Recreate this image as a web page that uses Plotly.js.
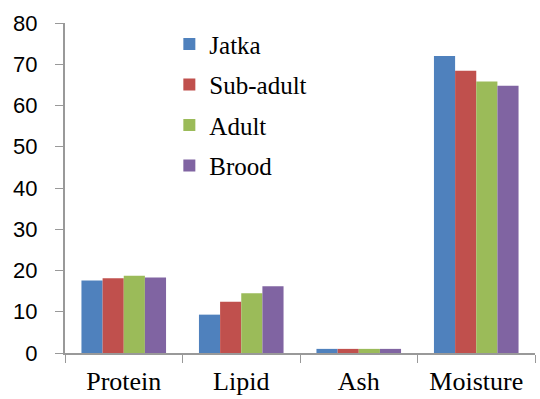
<!DOCTYPE html>
<html>
<head>
<meta charset="utf-8">
<script src="https://cdn.plot.ly/plotly-3.0.1.min.js"></script>
<style>html,body{margin:0;padding:0;background:#fff;}#chart{width:540px;height:399px;}</style>
</head>
<body>
<div id="chart"></div>
<script>
const categories = ["Protein", "Lipid", "Ash", "Moisture"];
const seriesNames = ["Jatka", "Sub-adult", "Adult", "Brood"];
const jatka = [17.6, 9.3, 1.0, 72.0];
const subAdult = [18.1, 12.4, 1.0, 68.4];
const adult = [18.7, 14.5, 1.0, 65.8];
const brood = [18.3, 16.2, 1.0, 64.8];
const colors = ["#4F81BD", "#C0504D", "#9BBB59", "#8064A2"];
const yTicks = [0, 10, 20, 30, 40, 50, 60, 70, 80];

const allSeries = [jatka, subAdult, adult, brood];
const traces = allSeries.map((vals, i) => ({
  type: "bar",
  name: seriesNames[i],
  x: categories,
  y: vals,
  legendgroup: "g" + i,
  marker: {color: colors[i], line: {width: 0}}
}));

const serif = "'Liberation Serif', 'Times New Roman', serif";
const layout = {
  width: 540, height: 399,
  margin: {l: 65, r: 5, t: 23, b: 46},
  paper_bgcolor: "#fff", plot_bgcolor: "#fff",
  font: {family: serif, size: 26, color: "#000"},
  barmode: "group",
  bargap: 0.28, bargroupgap: 0,
  showlegend: true,
  legend: {
    x: 0.222, y: 1.005, xanchor: "left", yanchor: "top",
    font: {family: serif, size: 25, color: "#000"},
    tracegroupgap: 5, bgcolor: "rgba(0,0,0,0)"
  },
  xaxis: {
    type: "category",
    range: [-0.5, 3.5],
    tickson: "boundaries",
    ticks: "outside", ticklen: 8, tickcolor: "#999",
    showline: true, linecolor: "#999", linewidth: 2,
    ticklabelstandoff: 4,
    tickfont: {family: serif, size: 26, color: "#000"},
    showgrid: false, zeroline: false
  },
  yaxis: {
    range: [0, 80],
    tickvals: yTicks,
    ticks: "outside", ticklen: 8, tickcolor: "#999",
    showline: true, linecolor: "#999", linewidth: 2,
    ticklabelstandoff: 13,
    tickfont: {family: "'Liberation Sans', Arial, sans-serif", size: 22, color: "#000"},
    showgrid: false, zeroline: false
  }
};

Plotly.newPlot("chart", traces, layout, {displayModeBar: false, staticPlot: true});
</script>
</body>
</html>
